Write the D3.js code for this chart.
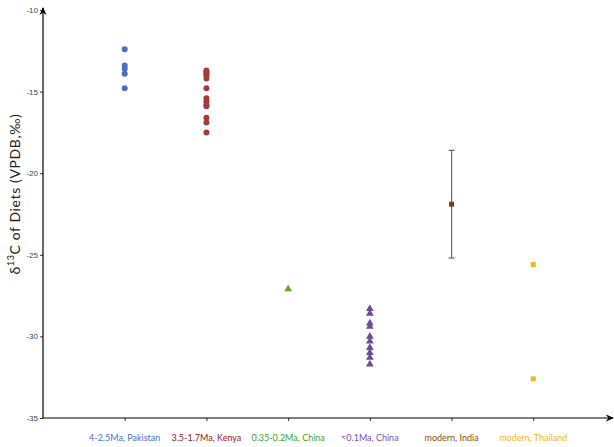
<!DOCTYPE html>
<html>
<head>
<meta charset="utf-8">
<script src="https://cdn.jsdelivr.net/npm/d3@7"></script>
<style>
  body { margin: 0; background: #fff; }
  svg { display: block; font-family: Lato, "Open Sans", sans-serif; }
</style>
</head>
<body>
<div id="chart"></div>
<script>
// Category labels along the bottom
const categories = ['4-2.5Ma, Pakistan', '3.5-1.7Ma, Kenya', '0.35-0.2Ma, China',
    '\u22480.1Ma, China', 'modern, India', 'modern, Thailand'];
const labelColors = ['#4a72c8', '#a3161a', '#3aa33a', '#7a4fb0', '#8a4a1c', '#f0b81c'];

// d13C values per group
const pakistan = [-12.4, -13.4, -13.6, -13.9, -14.8];
const kenya = [-13.7, -13.8, -13.9, -14.0, -14.2, -14.8, -15.4, -15.6, -15.8, -15.9, -16.6, -16.9, -17.5];
const chinaMid = [-27.1];
const chinaLate = [-28.3, -28.6, -29.2, -29.4, -30.0, -30.3, -30.7, -31.0, -31.3, -31.7];
const india = [-21.9];
const indiaErr = [-18.6, -25.2];
const thailand = [-25.6, -32.6];

const yTicks = [-35, -30, -25, -20, -15, -10];

const width = 614, height = 447;
const svg = d3.select('#chart').append('svg')
    .attr('width', width)
    .attr('height', height);

const x = d3.scaleLinear().domain([0, 7]).range([43, 615]);
const y = d3.scaleLinear().domain([-35, -10]).range([418, 10]);

// arrow head
svg.append('defs').append('marker')
    .attr('id', 'arrow')
    .attr('viewBox', '0 0 10 10')
    .attr('refX', 8).attr('refY', 5)
    .attr('markerWidth', 9).attr('markerHeight', 9)
    .attr('markerUnits', 'userSpaceOnUse')
    .attr('orient', 'auto')
    .append('path')
    .attr('d', 'M0,1 L9,5 L0,9 L3,5 Z')
    .attr('fill', '#000');

// Y axis
const yAxis = svg.append('g')
    .attr('transform', `translate(${x(0)},0)`)
    .call(d3.axisLeft(y).tickValues(yTicks).tickSize(3).tickSizeOuter(0).tickFormat(d => String(d)));
yAxis.select('.domain').remove();
yAxis.selectAll('text').attr('font-size', 8).attr('fill', '#444').attr('x', -5);
yAxis.selectAll('line').attr('stroke', '#333');
svg.append('line')
    .attr('x1', x(0)).attr('x2', x(0))
    .attr('y1', y(-35)).attr('y2', y(-10) - 2)
    .attr('stroke', '#000').attr('stroke-width', 1.2)
    .attr('marker-end', 'url(#arrow)');

// X axis
const xAxis = svg.append('g')
    .attr('transform', `translate(0,${y(-35)})`)
    .call(d3.axisBottom(x).tickValues(d3.range(1, 7)).tickSize(3).tickFormat(''));
xAxis.select('.domain').remove();
xAxis.selectAll('line').attr('stroke', '#333');
svg.append('line')
    .attr('x1', x(0)).attr('x2', 613)
    .attr('y1', y(-35)).attr('y2', y(-35))
    .attr('stroke', '#000').attr('stroke-width', 1.2)
    .attr('marker-end', 'url(#arrow)');

svg.append('g').selectAll('text')
    .data(categories)
    .enter()
    .append('text')
    .attr('x', (d, i) => x(i + 1))
    .attr('y', 441)
    .attr('text-anchor', 'middle')
    .attr('font-size', 9)
    .attr('fill', (d, i) => labelColors[i])
    .text(d => d);

// Y title
const title = svg.append('text')
    .attr('transform', `translate(20,${194}) rotate(-90)`)
    .attr('text-anchor', 'middle')
    .attr('font-size', 14)
    .attr('letter-spacing', 0.6)
    .attr('fill', '#222');
title.append('tspan').text('\u03b4');
title.append('tspan').attr('font-size', 9).attr('dy', -6).text('13');
title.append('tspan').attr('dy', 6).text('C of Diets (VPDB,\u2030)');

// Points
function circles(values, cat, color) {
    svg.append('g').selectAll('circle')
        .data(values)
        .enter()
        .append('circle')
        .attr('cx', x(cat))
        .attr('cy', d => y(d))
        .attr('r', 3)
        .attr('fill', color);
}
function symbols(values, cat, type, size, color) {
    svg.append('g').selectAll('path')
        .data(values)
        .enter()
        .append('path')
        .attr('transform', d => `translate(${x(cat)},${y(d)})`)
        .attr('d', d3.symbol(type, size))
        .attr('fill', color);
}

circles(pakistan, 1, '#4a6fc4');
circles(kenya, 2, '#a33b3b');
symbols(chinaMid, 3, d3.symbolTriangle, 26, '#6aa33a');
symbols(chinaLate, 4, d3.symbolTriangle, 26, '#6a4c9c');

// error bar for India
const errG = svg.append('g').attr('stroke', '#666').attr('stroke-width', 1.2);
errG.append('line')
    .attr('x1', x(5)).attr('x2', x(5))
    .attr('y1', y(indiaErr[0])).attr('y2', y(indiaErr[1]));
errG.selectAll('.cap')
    .data(indiaErr)
    .enter()
    .append('line')
    .attr('class', 'cap')
    .attr('x1', x(5) - 3).attr('x2', x(5) + 3)
    .attr('y1', d => y(d)).attr('y2', d => y(d));

symbols(india, 5, d3.symbolSquare, 25, '#7f3a12');
symbols(thailand, 6, d3.symbolSquare, 25, '#eeb82a');
</script>
</body>
</html>
